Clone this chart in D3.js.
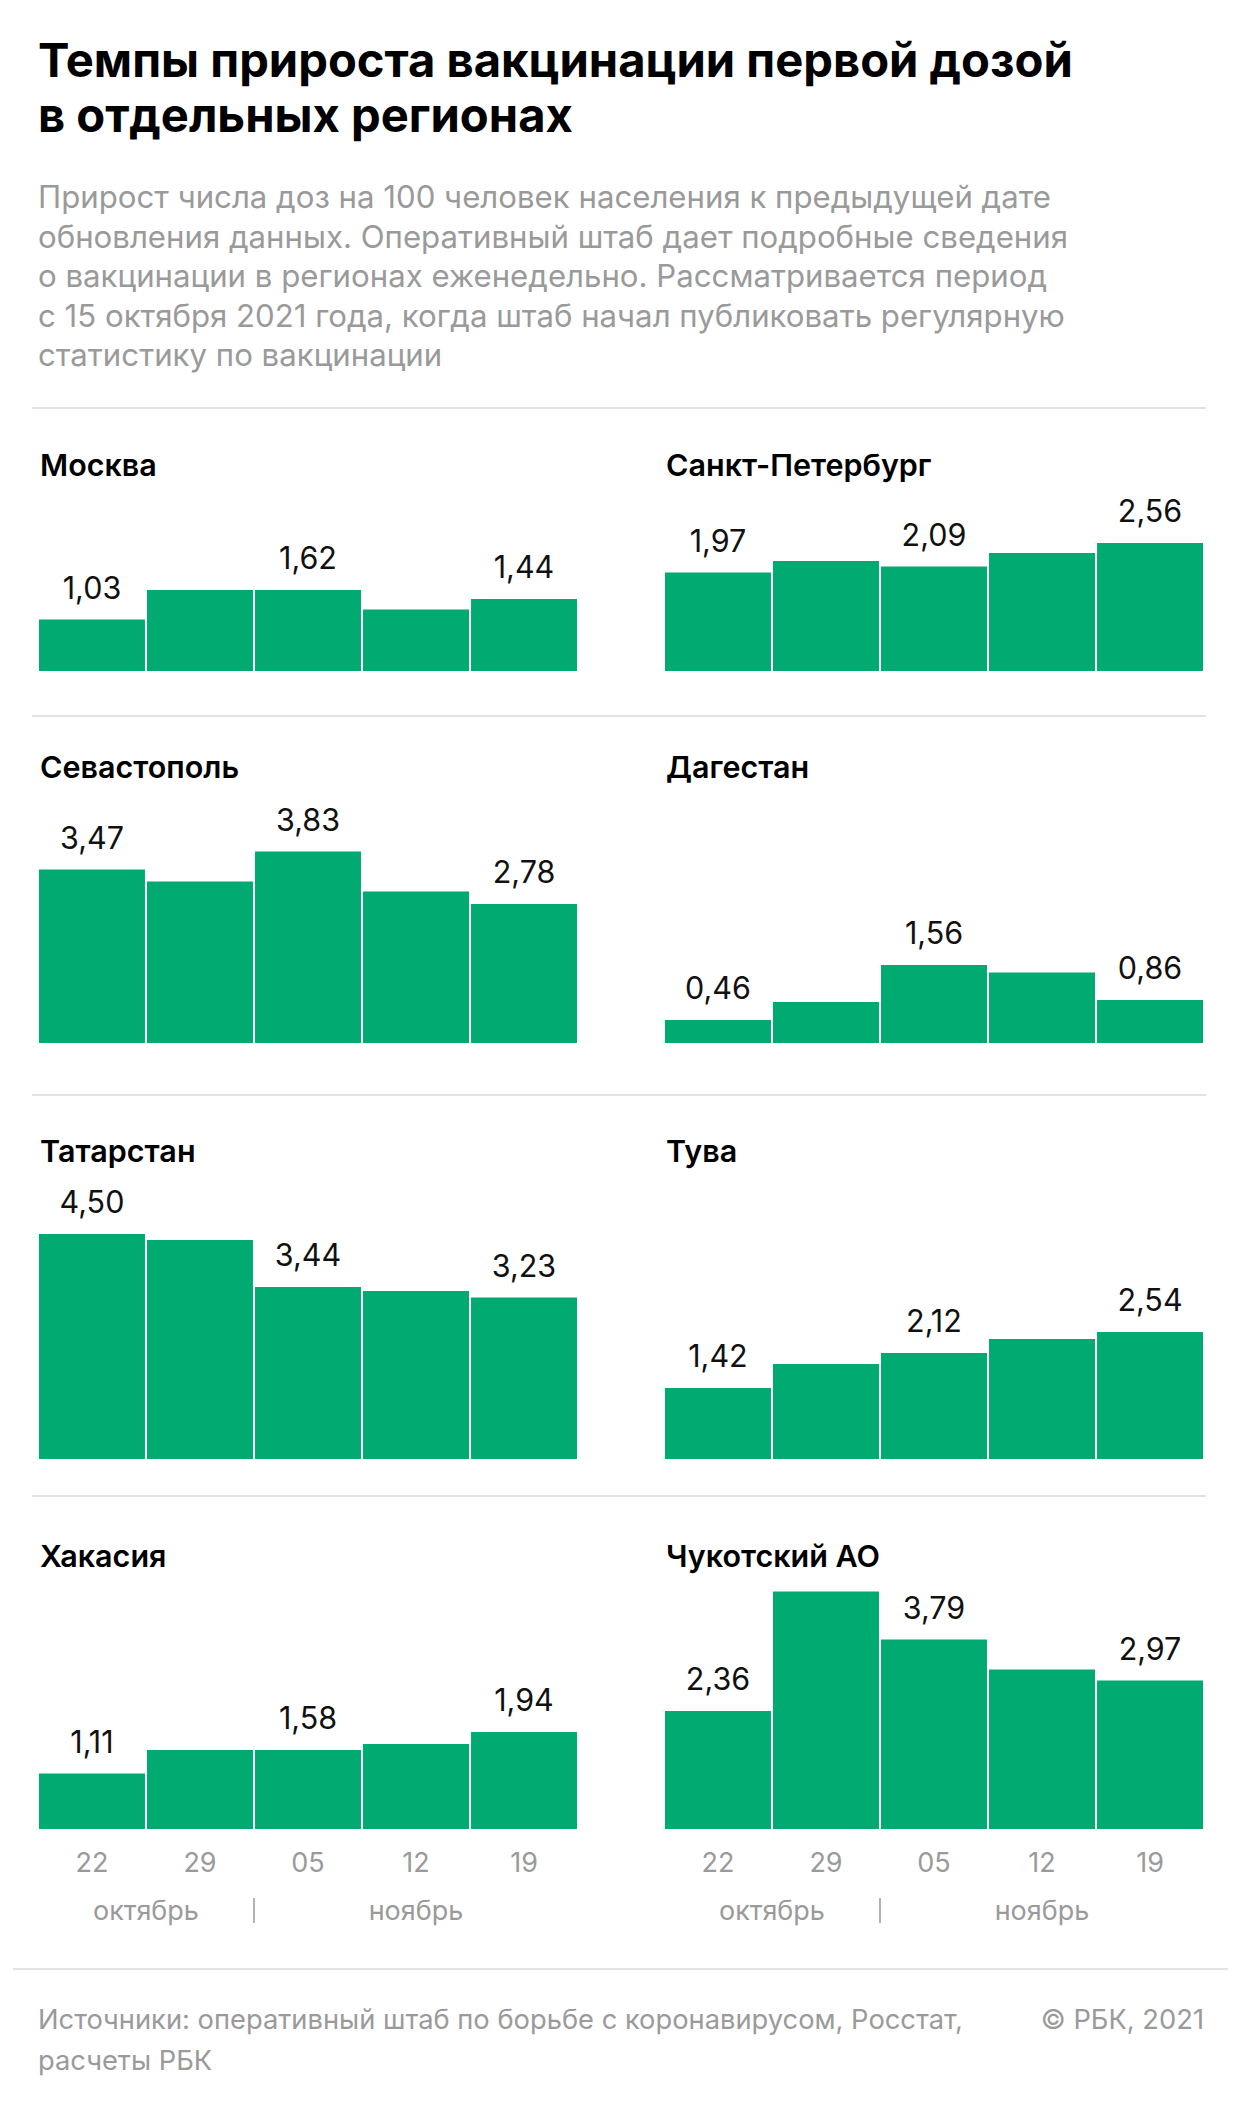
<!DOCTYPE html>
<html><head><meta charset="utf-8">
<script src="https://cdn.jsdelivr.net/npm/d3@7"></script>
<style>body{margin:0;background:#fff}svg{display:block}</style>
</head><body>
<script>
// ---- data ----
const regions = ["Москва","Санкт-Петербург","Севастополь","Дагестан","Татарстан","Тува","Хакасия","Чукотский АО"];
const dates = ["22","29","05","12","19"];
const months = ["октябрь","ноябрь"];
const moscow = [1.03,1.62,1.62,1.23,1.44];
const spb = [1.97,2.20,2.09,2.36,2.56];
const sevastopol = [3.47,3.23,3.83,3.03,2.78];
const dagestan = [0.46,0.82,1.56,1.41,0.86];
const tatarstan = [4.50,4.38,3.44,3.36,3.23];
const tuva = [1.42,1.90,2.12,2.40,2.54];
const khakassia = [1.11,1.58,1.58,1.70,1.94];
const chukotka = [2.36,4.75,3.79,3.19,2.97];
const labeledIdx = [0,2,4];
const titleLines = ["Темпы прироста вакцинации первой дозой","в отдельных регионах"];
const subtitleLines = [
 "Прирост числа доз на 100 человек населения к предыдущей дате",
 "обновления данных. Оперативный штаб дает подробные сведения",
 "о вакцинации в регионах еженедельно. Рассматривается период",
 "с 15 октября 2021 года, когда штаб начал публиковать регулярную",
 "статистику по вакцинации"];
const sourceLines = ["Источники: оперативный штаб по борьбе с коронавирусом, Росстат,","расчеты РБК"];
const copyright = "©  РБК, 2021";

const series = [moscow, spb, sevastopol, dagestan, tatarstan, tuva, khakassia, chukotka];

// ---- layout ----
const W = 1240, H = 2122;
const FONT = "Inter, Roboto, 'Noto Sans', sans-serif";
const GREEN = "#01aa71";
const GRAY = "#9a9a9a";
const colX = [[39, 577],[665, 1203]];
const rowBase = [671, 1043, 1459, 1829];
const rowTitle = [476, 778, 1162, 1567];
const seps = [408, 716, 1095, 1496];

const svg = d3.select("body").append("svg").attr("width", W).attr("height", H);
svg.append("rect").attr("width", W).attr("height", H).attr("fill", "#fff");

const fmt = d3.formatLocale({decimal: ",", thousands: " ", grouping: [3], currency: ["", ""]}).format(".2f");

// title
const t1 = svg.append("g").selectAll("text").data(titleLines).join("text")
  .attr("x", 38).attr("y", (d,i) => 77 + i*55)
  .attr("font-family", FONT).attr("font-weight", 700).attr("font-size", 44)
  .attr("fill", "#000").text(d => d);
const tfs = (() => { const n = t1.nodes()[0]; return 44 * 1035 / n.getComputedTextLength(); })();
t1.attr("font-size", tfs);

// subtitle
const st = svg.append("g").selectAll("text").data(subtitleLines).join("text")
  .attr("x", 38).attr("y", (d,i) => 208 + i*39.6)
  .attr("font-family", FONT).attr("font-size", 26)
  .attr("fill", GRAY).text(d => d);
const sfs = (() => { const n = st.nodes()[0]; return 26 * 1013 / n.getComputedTextLength(); })();
st.attr("font-size", sfs);

// separators
svg.append("g").selectAll("line").data(seps).join("line")
  .attr("x1", 32).attr("x2", 1206).attr("y1", d => d).attr("y2", d => d)
  .attr("stroke", "#e3e3e3").attr("stroke-width", 2);
svg.append("line").attr("x1", 13).attr("x2", 1228).attr("y1", 1969).attr("y2", 1969)
  .attr("stroke", "#e3e3e3").attr("stroke-width", 2);

const y = d3.scaleLinear().domain([0, 1]).range([0, 50]);

regions.forEach((name, k) => {
  const row = Math.floor(k/2), col = k % 2;
  const vals = series[k];
  const x = d3.scaleBand().domain(dates).range(colX[col]).paddingInner(0.019).paddingOuter(0);
  const base = rowBase[row];
  const g = svg.append("g");
  g.append("text").attr("x", colX[col][0] + 1).attr("y", rowTitle[row])
    .attr("font-family", FONT).attr("font-weight", 600).attr("font-size", 30.5)
    .attr("fill", "#000").text(name);
  g.selectAll("rect").data(vals).join("rect")
    .attr("x", (d,i) => x(dates[i])).attr("width", x.bandwidth())
    .attr("y", d => base - y(d)).attr("height", d => y(d))
    .attr("fill", GREEN);
  g.selectAll("text.v").data(labeledIdx).join("text").attr("class","v")
    .attr("x", i => x(dates[i]) + x.bandwidth()/2)
    .attr("y", i => base - y(vals[i]) - 21)
    .attr("text-anchor", "middle")
    .attr("font-family", FONT).attr("font-size", 30.5).attr("fill", "#111")
    .text(i => fmt(vals[i]));
  if (row === 3) {
    const ax = g.append("g").attr("transform", `translate(0,${base})`)
      .call(d3.axisBottom(x).tickSize(0).tickPadding(0));
    ax.select(".domain").remove();
    ax.selectAll("text").attr("y", 43).attr("dy", 0)
      .attr("font-family", FONT).attr("font-size", 27).attr("fill", GRAY);
    const octC = (x(dates[0]) + x(dates[1]) + x.bandwidth())/2;
    const novC = (x(dates[2]) + x(dates[4]) + x.bandwidth())/2;
    g.selectAll("text.m").data(months).join("text").attr("class","m")
      .attr("x", (d,i) => i === 0 ? octC : novC).attr("y", 1920)
      .attr("text-anchor", "middle")
      .attr("font-family", FONT).attr("font-size", 27).attr("fill", GRAY)
      .text(d => d);
    const dx = (x(dates[1]) + x.bandwidth() + x(dates[2]))/2;
    g.append("line").attr("x1", dx).attr("x2", dx).attr("y1", 1898).attr("y2", 1923)
      .attr("stroke", GRAY).attr("stroke-width", 1.5);
  }
});

// footer
const ft = svg.append("g").selectAll("text").data(sourceLines).join("text")
  .attr("x", 38).attr("y", (d,i) => 2029 + i*41)
  .attr("font-family", FONT).attr("font-size", 24).attr("fill", GRAY).text(d => d);
const ffs = (() => { const n = ft.nodes()[0]; return 24 * 925 / n.getComputedTextLength(); })();
ft.attr("font-size", ffs);
svg.append("text").attr("x", 1204).attr("y", 2029).attr("text-anchor", "end")
  .attr("font-family", FONT).attr("font-size", ffs).attr("fill", GRAY).text(copyright);
</script>
</body></html>
